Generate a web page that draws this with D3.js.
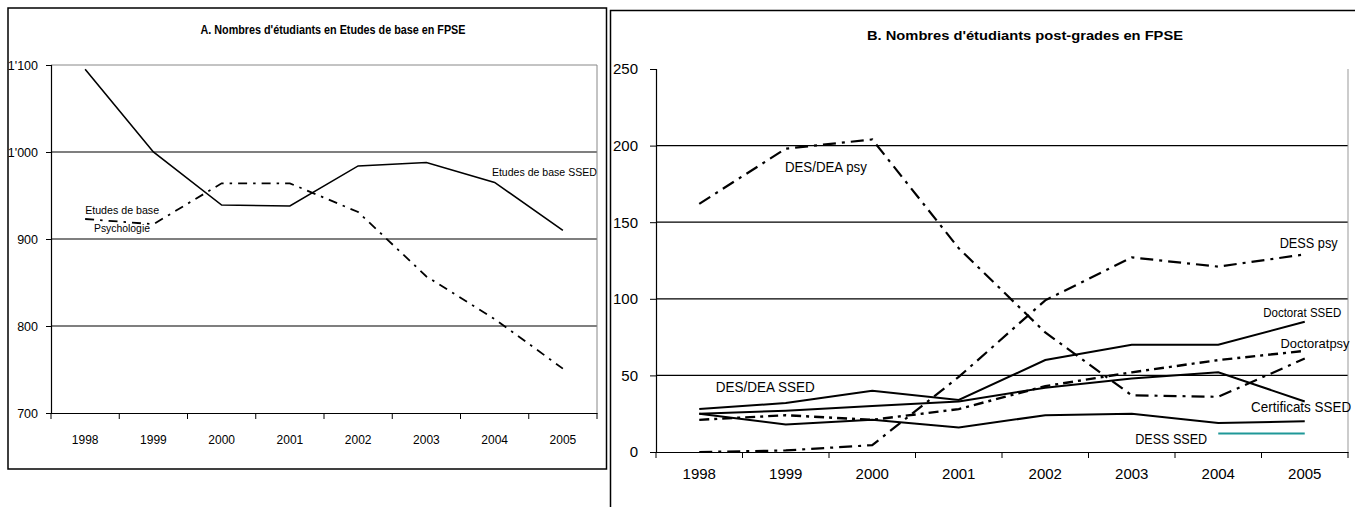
<!DOCTYPE html>
<html><head><meta charset="utf-8">
<script src="https://cdn.jsdelivr.net/npm/d3@7"></script>
<style>
body{margin:0;background:#fff}
svg{display:block}
text{font-family:"Liberation Sans",Arial,sans-serif;fill:#000}
</style>
</head><body>
<svg id="c" width="1355" height="507"></svg>
<script>
// ---------- DATA ----------
const years = ["1998","1999","2000","2001","2002","2003","2004","2005"];
// Panel A : Etudes de base
const baseSSED = [1095,1000,939,938,984,988,965,910];
const basePsy  = [923,917,964,964,931,857,808,751];
const ticksA   = [700,800,900,1000,1100];
// Panel B : post-grades
const desDeaPsy       = [162,198,204,133,78,37,36,61];
const dessPsy         = [0,1,4.5,49,99,127,121,129];
const doctoratSSED    = [28,32,40,34,60,70,70,85];
const doctoratPsy     = [21,24,21,28,43,52,60,66];
const certificatsSSED = [25,27,30,33,42,48,52,33];
const desDeaSSED      = [25,18,21,16,24,25,19,20];
const dessSSED        = [null,null,null,null,null,null,12,12];
const ticksB          = [0,50,100,150,200,250];

const titleA = "A. Nombres d'étudiants en Etudes de base en FPSE";
const titleB = "B. Nombres d'étudiants post-grades en FPSE";

// ---------- DRAW ----------
const svg = d3.select("#c");

svg.append("rect").attr("x",8).attr("y",8).attr("width",598.5).attr("height",461)
  .attr("fill","none").attr("stroke","#000").attr("stroke-width",1.5);
svg.append("rect").attr("x",610.5).attr("y",10.5).attr("width",800).attr("height",600)
  .attr("fill","none").attr("stroke","#000").attr("stroke-width",1.5);

function fitText(sel, w){ sel.attr("textLength",w).attr("lengthAdjust","spacingAndGlyphs"); return sel; }

// ===== Panel A =====
const xA = d3.scaleBand().domain(years).range([51,597]);
const yA = d3.scaleLinear().domain([700,1100]).range([413,65]);
const gA = svg.append("g");
const fmtA = d => d3.format(",")(d).replace(",", "'");

gA.selectAll(".gridA").data(ticksA.filter(t=>t>700 && t<1100)).enter().append("line")
  .attr("x1",xA.range()[0]).attr("x2",xA.range()[1])
  .attr("y1",d=>yA(d)).attr("y2",d=>yA(d))
  .attr("stroke","#555").attr("stroke-width",1.4);
gA.append("path")
  .attr("d",`M${xA.range()[0]},${yA(1100)}H${xA.range()[1]}V${yA(700)}`)
  .attr("fill","none").attr("stroke","#888").attr("stroke-width",1);

const axYA = gA.append("g").attr("transform",`translate(${xA.range()[0]},0)`)
  .call(d3.axisLeft(yA).tickValues(ticksA).tickFormat(fmtA).tickSize(5).tickPadding(8));
axYA.selectAll("text").style("font-size","12.5px");
const axXA = gA.append("g").attr("transform",`translate(0,${yA(700)})`)
  .call(d3.axisBottom(xA).tickSize(0).tickPadding(22));
axXA.selectAll("text").style("font-size","12px");
gA.selectAll(".tkA").data(d3.range(years.length+1)).enter().append("line")
  .attr("x1",i=>xA.range()[0]+i*xA.step()).attr("x2",i=>xA.range()[0]+i*xA.step())
  .attr("y1",yA(700)).attr("y2",yA(700)+6).attr("stroke","#000");
[axYA,axXA].forEach(a=>{a.select(".domain").attr("stroke","#000").attr("stroke-width",1.2); a.selectAll(".tick line").attr("stroke","#000");});

const lineA = d3.line().x((d,i)=>xA(years[i])+xA.bandwidth()/2).y(d=>yA(d));
gA.append("path").attr("d",lineA(baseSSED)).attr("fill","none")
  .attr("stroke","#000").attr("stroke-width",1.6);
gA.append("path").attr("d",lineA(basePsy)).attr("fill","none")
  .attr("stroke","#000").attr("stroke-width",1.8).attr("stroke-dasharray","9,6,2.5,6");

fitText(svg.append("text").attr("x",333).attr("y",30).attr("dy","0.35em")
  .attr("text-anchor","middle").style("font-size","12px").style("font-weight","bold").text(titleA),265);

const fxA = f => xA.range()[0] + f*xA.step();
const annA = [
  {t:"Etudes de base SSED", f:6.46, v:977, w:105},
  {t:"Etudes de base", f:0.5, v:933, w:74},
  {t:"Psychologie", f:0.63, v:913, w:56}
];
annA.forEach(a=>{
  fitText(gA.append("text").attr("x",fxA(a.f)).attr("y",yA(a.v)).attr("dy","0.35em")
    .style("font-size","11px").text(a.t), a.w);
});

// ===== Panel B =====
const xB = d3.scaleBand().domain(years).range([656,1348]);
const yB = d3.scaleLinear().domain([0,250]).range([452,69]);
const gB = svg.append("g");

gB.selectAll(".gridB").data(ticksB.filter(t=>t>0 && t<250)).enter().append("line")
  .attr("x1",xB.range()[0]).attr("x2",xB.range()[1])
  .attr("y1",d=>yB(d)).attr("y2",d=>yB(d))
  .attr("stroke","#000").attr("stroke-width",1.2);
gB.append("line").attr("x1",xB.range()[1]).attr("x2",xB.range()[1])
  .attr("y1",yB(250)).attr("y2",yB(0)).attr("stroke","#999").attr("stroke-width",1);

const axYB = gB.append("g").attr("transform",`translate(${xB.range()[0]},0)`)
  .call(d3.axisLeft(yB).tickValues(ticksB).tickSize(6).tickPadding(12));
axYB.selectAll("text").style("font-size","15px");
const axXB = gB.append("g").attr("transform",`translate(0,${yB(0)})`)
  .call(d3.axisBottom(xB).tickSize(0).tickPadding(16));
axXB.selectAll("text").style("font-size","15px");
gB.selectAll(".tkB").data(d3.range(years.length+1)).enter().append("line")
  .attr("x1",i=>xB.range()[0]+i*xB.step()).attr("x2",i=>xB.range()[0]+i*xB.step())
  .attr("y1",yB(0)).attr("y2",yB(0)+6).attr("stroke","#000");
[axYB,axXB].forEach(a=>{a.select(".domain").attr("stroke","#000").attr("stroke-width",1.2); a.selectAll(".tick line").attr("stroke","#000");});

const lineB = d3.line().defined(d=>d!==null)
  .x((d,i)=>xB(years[i])+xB.bandwidth()/2).y(d=>yB(d));
const seriesB = [
  {v:desDeaSSED, c:"#000", dash:null, w:2},
  {v:certificatsSSED, c:"#000", dash:null, w:2},
  {v:doctoratSSED, c:"#000", dash:null, w:2},
  {v:doctoratPsy, c:"#000", dash:"10,5,3,5", w:2.4},
  {v:dessPsy, c:"#000", dash:"13,6,3,6", w:2.2},
  {v:desDeaPsy, c:"#000", dash:"13,6,3,6", w:2.2},
  {v:dessSSED, c:"#1f9898", dash:null, w:2}
];
seriesB.forEach(s=>{
  gB.append("path").attr("d",lineB(s.v)).attr("fill","none")
    .attr("stroke",s.c).attr("stroke-width",s.w)
    .attr("stroke-dasharray",s.dash);
});

fitText(svg.append("text").attr("x",1025).attr("y",35).attr("dy","0.35em")
  .attr("text-anchor","middle").style("font-size","13px").style("font-weight","bold").text(titleB),316);

const fxB = f => xB.range()[0] + f*xB.step();
const annB = [
  {t:"DES/DEA psy", f:1.49, v:186, w:82, s:14},
  {t:"DESS psy", f:7.21, v:136.4, w:58, s:14},
  {t:"Doctorat SSED", f:7.02, v:90.7, w:78, s:12},
  {t:"Doctoratpsy", f:7.22, v:71, w:69, s:13},
  {t:"Certificats SSED", f:6.88, v:29.4, w:100, s:14},
  {t:"DESS SSED", f:5.54, v:8.5, w:72, s:14},
  {t:"DES/DEA SSED", f:0.69, v:42.4, w:99, s:14}
];
annB.forEach(a=>{
  fitText(gB.append("text").attr("x",fxB(a.f)).attr("y",yB(a.v)).attr("dy","0.35em")
    .style("font-size",a.s+"px").text(a.t), a.w);
});
</script>
</body></html>
